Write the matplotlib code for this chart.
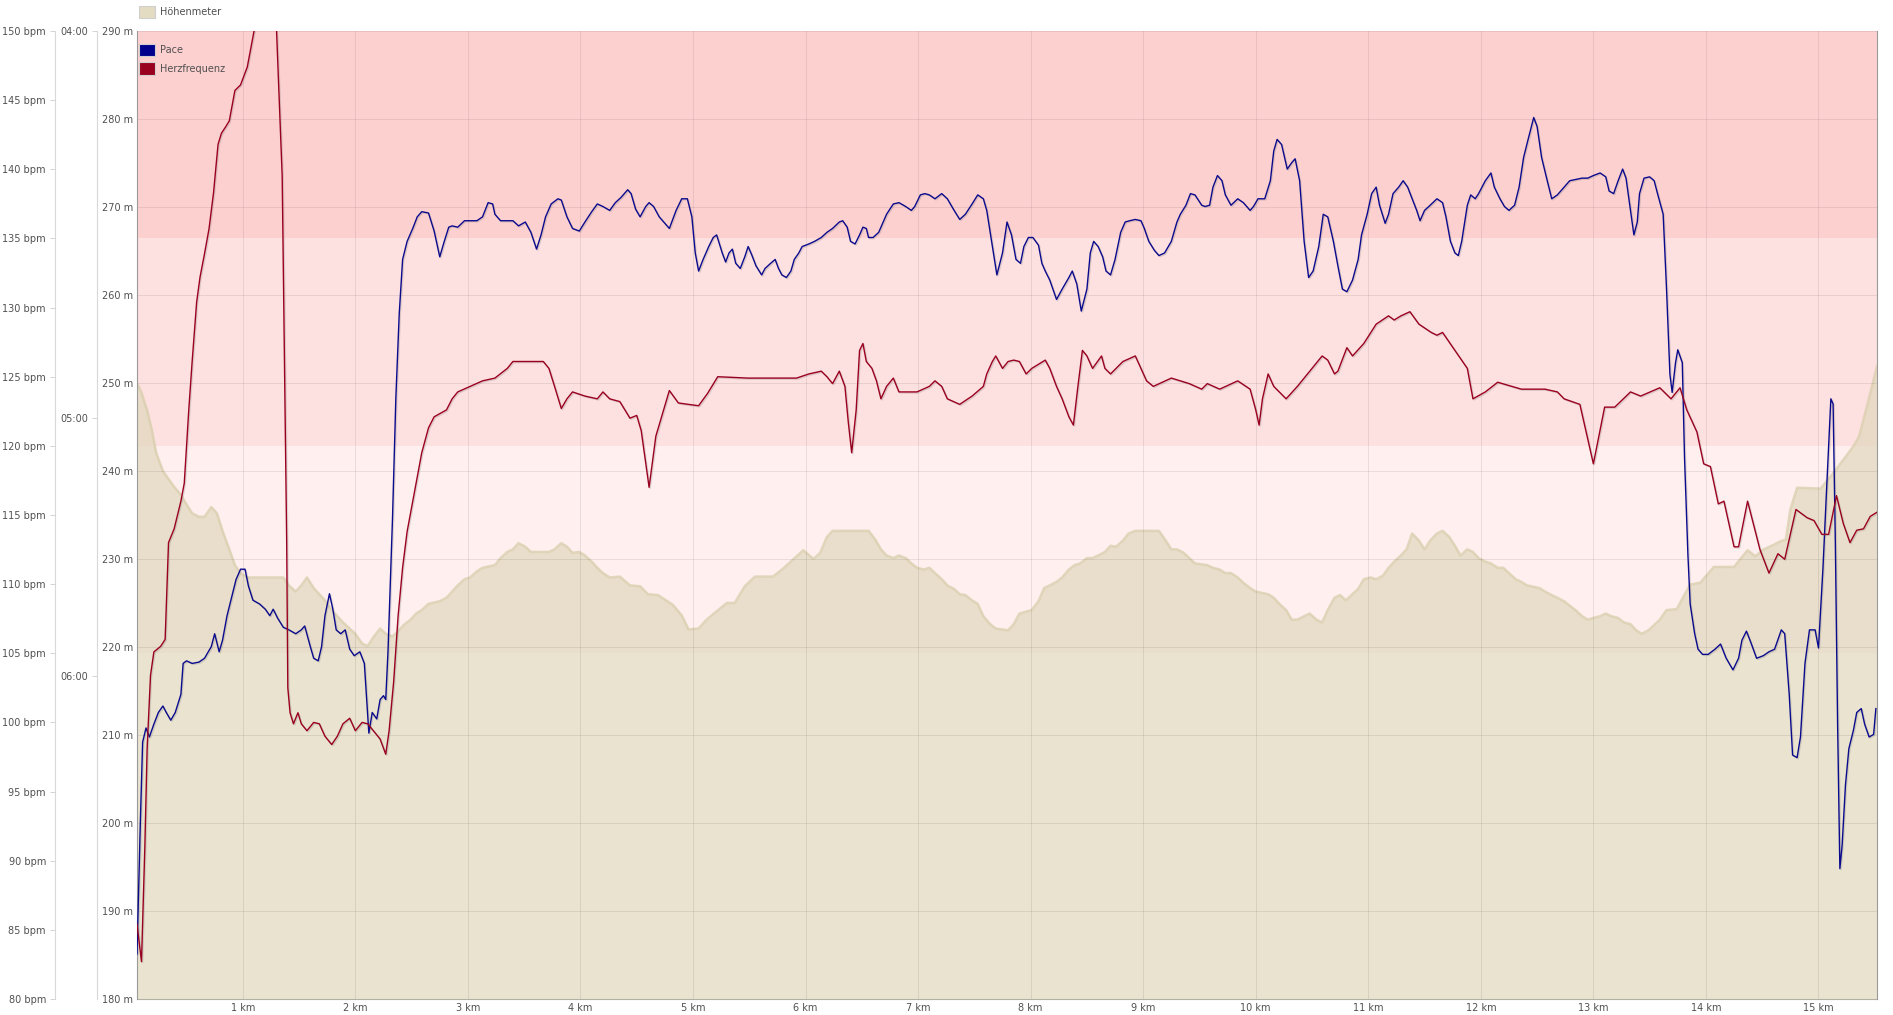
import matplotlib
matplotlib.use('Agg')
import matplotlib.pyplot as plt
import matplotlib.patheffects as pe
from matplotlib.patches import Patch

# --- DATEN: Hoehenprofil ---
alt_km = [0.06, 0.10, 0.15, 0.19, 0.23, 0.29, 0.34, 0.39, 0.45, 0.50,
          0.55, 0.61, 0.66, 0.72, 0.77, 0.82, 0.88, 0.93, 0.98, 1.04,
          1.36, 1.41, 1.47, 1.52, 1.57, 1.63, 1.68, 1.73, 1.79, 1.84,
          1.89, 1.95, 2.00, 2.06, 2.11, 2.16, 2.22, 2.27, 2.33, 2.38,
          2.43, 2.49, 2.54, 2.59, 2.65, 2.75, 2.81, 2.86, 2.91, 2.97,
          3.02, 3.08, 3.13, 3.24, 3.29, 3.35, 3.40, 3.45, 3.51, 3.56,
          3.72, 3.77, 3.83, 3.88, 3.93, 3.99, 4.04, 4.10, 4.15, 4.20,
          4.26, 4.35, 4.44, 4.53, 4.60, 4.69, 4.82, 4.90, 4.96, 5.05,
          5.12, 5.30, 5.37, 5.46, 5.55, 5.71, 5.80, 5.98, 6.07, 6.13,
          6.19, 6.24, 6.56, 6.62, 6.67, 6.72, 6.78, 6.83, 6.89, 6.94,
          6.99, 7.05, 7.10, 7.15, 7.21, 7.26, 7.32, 7.37, 7.42, 7.48,
          7.53, 7.58, 7.64, 7.69, 7.80, 7.85, 7.90, 8.01, 8.07, 8.12,
          8.17, 8.23, 8.28, 8.34, 8.39, 8.44, 8.50, 8.55, 8.60, 8.66,
          8.71, 8.76, 8.82, 8.87, 8.93, 9.14, 9.20, 9.25, 9.30, 9.36,
          9.41, 9.46, 9.57, 9.62, 9.68, 9.73, 9.78, 9.84, 9.89, 9.95,
          10.00, 10.11, 10.16, 10.21, 10.27, 10.32, 10.37, 10.43, 10.48, 10.54,
          10.59, 10.64, 10.70, 10.75, 10.80, 10.86, 10.91, 10.96, 11.02, 11.07,
          11.13, 11.18, 11.23, 11.29, 11.34, 11.39, 11.45, 11.50, 11.55, 11.61,
          11.66, 11.72, 11.77, 11.82, 11.88, 11.93, 11.98, 12.04, 12.09, 12.15,
          12.20, 12.25, 12.31, 12.36, 12.41, 12.52, 12.57, 12.63, 12.68, 12.74,
          12.79, 12.84, 12.90, 12.95, 13.00, 13.06, 13.11, 13.16, 13.22, 13.27,
          13.33, 13.38, 13.43, 13.49, 13.54, 13.59, 13.65, 13.74, 13.86, 13.95,
          14.07, 14.25, 14.37, 14.44, 14.50, 14.60, 14.66, 14.71, 14.75, 14.81,
          15.02, 15.14, 15.31, 15.36, 15.43, 15.52]
alt_m = [250.0, 248.9, 246.9, 244.8, 242.1, 240.0, 239.1, 238.2, 237.3, 236.2,
         235.2, 234.8, 234.8, 235.9, 235.2, 233.2, 231.1, 229.3, 228.4, 227.9,
         227.9, 227.0, 226.3, 227.0, 227.9, 226.7, 226.0, 225.3, 224.2, 223.5,
         222.8, 222.1, 221.5, 220.4, 220.1, 221.1, 222.1, 221.5, 221.2, 221.8,
         222.5, 223.1, 223.8, 224.2, 224.9, 225.2, 225.6, 226.3, 227.0, 227.7,
         227.9, 228.6, 229.0, 229.3, 230.1, 230.8, 231.1, 231.8, 231.4, 230.8,
         230.8, 231.1, 231.8, 231.4, 230.7, 230.8, 230.4, 229.7, 229.0, 228.4,
         227.9, 228.0, 227.0, 226.9, 226.0, 225.9, 224.8, 223.6, 222.0, 222.1,
         223.1, 225.0, 225.0, 226.9, 228.0, 228.0, 228.9, 231.0, 230.0, 230.7,
         232.5, 233.2, 233.2, 232.2, 231.1, 230.4, 230.1, 230.4, 230.1, 229.5,
         229.0, 228.8, 229.0, 228.4, 227.7, 227.0, 226.6, 226.0, 225.9, 225.3,
         224.9, 223.5, 222.6, 222.1, 221.9, 222.6, 223.8, 224.2, 225.2, 226.7,
         227.0, 227.4, 227.9, 228.8, 229.3, 229.5, 230.1, 230.1, 230.4, 230.8,
         231.5, 231.4, 232.1, 232.9, 233.2, 233.2, 232.1, 231.1, 231.1, 230.7,
         230.1, 229.5, 229.3, 229.0, 228.8, 228.4, 228.4, 227.9, 227.3, 226.7,
         226.3, 226.0, 225.6, 224.9, 224.2, 223.1, 223.1, 223.5, 223.8, 223.1,
         222.8, 224.2, 225.6, 225.9, 225.3, 226.0, 226.6, 227.7, 227.9, 227.7,
         228.1, 229.0, 229.7, 230.4, 231.1, 232.9, 232.1, 231.1, 232.1, 232.9,
         233.2, 232.5, 231.5, 230.4, 231.1, 230.8, 230.1, 229.7, 229.5, 229.0,
         229.0, 228.4, 227.7, 227.4, 227.0, 226.7, 226.3, 225.9, 225.6, 225.2,
         224.7, 224.2, 223.5, 223.1, 223.3, 223.5, 223.8, 223.5, 223.3, 222.8,
         222.6, 221.9, 221.5, 221.9, 222.5, 223.1, 224.2, 224.3, 227.1, 227.3,
         229.1, 229.1, 231.0, 230.3, 231.0, 231.6, 232.0, 232.2, 235.6, 238.1,
         238.0, 239.9, 242.8, 243.9, 247.3, 251.9]

# --- DATEN: Pace (als Geschwindigkeit km/h) ---
pace_km = [0.06, 0.09, 0.11, 0.14, 0.17, 0.21, 0.25, 0.29, 0.32, 0.36,
           0.40, 0.45, 0.47, 0.50, 0.55, 0.61, 0.66, 0.72, 0.75, 0.79,
           0.82, 0.86, 0.90, 0.94, 0.98, 1.02, 1.05, 1.09, 1.15, 1.20,
           1.24, 1.27, 1.31, 1.36, 1.41, 1.47, 1.52, 1.55, 1.60, 1.63,
           1.67, 1.70, 1.73, 1.77, 1.80, 1.83, 1.87, 1.91, 1.95, 1.99,
           2.04, 2.08, 2.12, 2.15, 2.19, 2.22, 2.25, 2.27, 2.29, 2.33,
           2.36, 2.39, 2.42, 2.46, 2.51, 2.55, 2.59, 2.65, 2.70, 2.75,
           2.79, 2.83, 2.86, 2.91, 2.97, 3.08, 3.13, 3.18, 3.22, 3.24,
           3.29, 3.40, 3.45, 3.51, 3.56, 3.61, 3.65, 3.69, 3.74, 3.80,
           3.83, 3.88, 3.93, 3.99, 4.04, 4.10, 4.15, 4.20, 4.26, 4.31,
           4.36, 4.42, 4.45, 4.49, 4.53, 4.58, 4.61, 4.65, 4.70, 4.74,
           4.79, 4.85, 4.90, 4.95, 4.99, 5.02, 5.05, 5.09, 5.14, 5.18,
           5.21, 5.26, 5.29, 5.32, 5.35, 5.38, 5.42, 5.46, 5.49, 5.52,
           5.56, 5.61, 5.64, 5.69, 5.73, 5.76, 5.79, 5.83, 5.87, 5.90,
           5.94, 5.97, 6.03, 6.08, 6.14, 6.19, 6.24, 6.30, 6.33, 6.37,
           6.40, 6.44, 6.48, 6.51, 6.54, 6.56, 6.60, 6.65, 6.69, 6.72,
           6.78, 6.83, 6.89, 6.94, 6.97, 7.02, 7.06, 7.10, 7.15, 7.21,
           7.26, 7.32, 7.37, 7.42, 7.48, 7.53, 7.58, 7.61, 7.66, 7.70,
           7.75, 7.79, 7.83, 7.87, 7.91, 7.94, 7.98, 8.02, 8.07, 8.10,
           8.13, 8.17, 8.23, 8.28, 8.34, 8.37, 8.41, 8.45, 8.50, 8.53,
           8.56, 8.60, 8.64, 8.67, 8.71, 8.75, 8.80, 8.84, 8.88, 8.93,
           8.98, 9.01, 9.05, 9.10, 9.14, 9.19, 9.25, 9.30, 9.33, 9.38,
           9.42, 9.46, 9.52, 9.55, 9.59, 9.62, 9.66, 9.70, 9.73, 9.78,
           9.84, 9.89, 9.95, 9.98, 10.02, 10.08, 10.13, 10.16, 10.19, 10.23,
           10.28, 10.32, 10.35, 10.39, 10.43, 10.47, 10.51, 10.56, 10.60, 10.64,
           10.69, 10.73, 10.77, 10.81, 10.86, 10.91, 10.94, 10.99, 11.03, 11.07,
           11.10, 11.15, 11.18, 11.22, 11.27, 11.31, 11.35, 11.39, 11.43, 11.46,
           11.50, 11.55, 11.61, 11.66, 11.69, 11.73, 11.77, 11.80, 11.83, 11.88,
           11.91, 11.95, 11.98, 12.04, 12.09, 12.12, 12.17, 12.21, 12.25, 12.30,
           12.34, 12.38, 12.42, 12.47, 12.50, 12.54, 12.59, 12.63, 12.68, 12.74,
           12.79, 12.90, 12.95, 13.00, 13.06, 13.11, 13.14, 13.18, 13.22, 13.26,
           13.29, 13.33, 13.36, 13.39, 13.41, 13.45, 13.50, 13.54, 13.57, 13.62,
           13.65, 13.68, 13.70, 13.73, 13.75, 13.79, 13.81, 13.84, 13.86, 13.90,
           13.93, 13.97, 14.02, 14.08, 14.13, 14.18, 14.24, 14.29, 14.32, 14.36,
           14.40, 14.45, 14.51, 14.56, 14.61, 14.67, 14.70, 14.74, 14.77, 14.81,
           14.84, 14.88, 14.92, 14.97, 15.00, 15.04, 15.07, 15.11, 15.13, 15.15,
           15.17, 15.19, 15.21, 15.24, 15.27, 15.31, 15.34, 15.38, 15.41, 15.45,
           15.49, 15.51]
speed_kmh = [7.85, 8.88, 9.49, 9.60, 9.53, 9.63, 9.72, 9.77, 9.72, 9.66,
             9.72, 9.86, 10.10, 10.12, 10.10, 10.11, 10.14, 10.23, 10.33, 10.19,
             10.28, 10.47, 10.61, 10.75, 10.83, 10.83, 10.70, 10.59, 10.56, 10.52,
             10.47, 10.52, 10.45, 10.38, 10.36, 10.33, 10.36, 10.39, 10.23, 10.14,
             10.12, 10.23, 10.47, 10.64, 10.52, 10.36, 10.33, 10.36, 10.21, 10.16,
             10.19, 10.10, 9.56, 9.72, 9.67, 9.82, 9.85, 9.82, 10.19, 11.22,
             12.16, 12.81, 13.23, 13.37, 13.47, 13.56, 13.60, 13.59, 13.45, 13.25,
             13.37, 13.48, 13.49, 13.48, 13.53, 13.53, 13.56, 13.67, 13.66, 13.58,
             13.53, 13.53, 13.49, 13.52, 13.44, 13.31, 13.42, 13.56, 13.66, 13.70,
             13.69, 13.56, 13.47, 13.45, 13.52, 13.60, 13.66, 13.64, 13.61, 13.67,
             13.71, 13.77, 13.74, 13.62, 13.56, 13.64, 13.67, 13.64, 13.56, 13.52,
             13.47, 13.61, 13.70, 13.70, 13.56, 13.28, 13.14, 13.23, 13.33, 13.40,
             13.42, 13.28, 13.21, 13.28, 13.31, 13.20, 13.16, 13.25, 13.33, 13.27,
             13.18, 13.11, 13.16, 13.20, 13.23, 13.16, 13.11, 13.09, 13.14, 13.23,
             13.28, 13.33, 13.35, 13.37, 13.40, 13.44, 13.47, 13.52, 13.53, 13.48,
             13.37, 13.35, 13.42, 13.48, 13.47, 13.40, 13.40, 13.44, 13.52, 13.58,
             13.66, 13.67, 13.64, 13.61, 13.64, 13.73, 13.74, 13.73, 13.70, 13.74,
             13.70, 13.61, 13.54, 13.58, 13.66, 13.73, 13.70, 13.61, 13.33, 13.11,
             13.28, 13.52, 13.42, 13.23, 13.20, 13.33, 13.40, 13.40, 13.34, 13.20,
             13.14, 13.07, 12.92, 13.00, 13.09, 13.14, 13.04, 12.83, 13.00, 13.28,
             13.37, 13.33, 13.25, 13.14, 13.11, 13.23, 13.44, 13.52, 13.53, 13.54,
             13.53, 13.47, 13.37, 13.30, 13.26, 13.28, 13.37, 13.52, 13.58, 13.65,
             13.74, 13.73, 13.65, 13.64, 13.65, 13.79, 13.88, 13.84, 13.73, 13.65,
             13.70, 13.67, 13.61, 13.64, 13.70, 13.70, 13.84, 14.07, 14.16, 14.12,
             13.93, 13.98, 14.01, 13.84, 13.37, 13.09, 13.14, 13.33, 13.58, 13.56,
             13.37, 13.18, 13.00, 12.98, 13.07, 13.23, 13.42, 13.58, 13.74, 13.79,
             13.65, 13.51, 13.58, 13.74, 13.79, 13.84, 13.79, 13.70, 13.61, 13.53,
             13.61, 13.65, 13.70, 13.67, 13.56, 13.37, 13.28, 13.26, 13.37, 13.65,
             13.73, 13.70, 13.74, 13.84, 13.90, 13.79, 13.70, 13.64, 13.61, 13.65,
             13.79, 14.02, 14.16, 14.33, 14.26, 14.02, 13.84, 13.70, 13.73, 13.79,
             13.84, 13.86, 13.86, 13.88, 13.90, 13.87, 13.76, 13.74, 13.84, 13.93,
             13.86, 13.61, 13.42, 13.52, 13.74, 13.86, 13.87, 13.84, 13.74, 13.58,
             13.00, 12.34, 12.20, 12.43, 12.53, 12.43, 11.69, 10.94, 10.56, 10.33,
             10.21, 10.17, 10.17, 10.21, 10.25, 10.14, 10.05, 10.14, 10.28, 10.35,
             10.26, 10.14, 10.16, 10.19, 10.21, 10.36, 10.33, 9.86, 9.39, 9.37,
             9.53, 10.10, 10.36, 10.36, 10.22, 10.84, 11.41, 12.15, 12.11, 11.03,
             9.63, 8.51, 8.69, 9.16, 9.44, 9.58, 9.72, 9.75, 9.63, 9.53,
             9.55, 9.75]

# --- DATEN: Herzfrequenz ---
hr_km = [0.06, 0.10, 0.13, 0.15, 0.18, 0.21, 0.27, 0.31, 0.34, 0.39,
         0.45, 0.48, 0.52, 0.55, 0.59, 0.62, 0.66, 0.70, 0.74, 0.78,
         0.81, 0.85, 0.88, 0.93, 0.98, 1.04, 1.07, 1.10, 1.19, 1.30,
         1.33, 1.35, 1.37, 1.39, 1.40, 1.42, 1.45, 1.49, 1.52, 1.57,
         1.63, 1.68, 1.73, 1.79, 1.84, 1.89, 1.95, 2.00, 2.06, 2.11,
         2.16, 2.22, 2.27, 2.30, 2.34, 2.38, 2.42, 2.46, 2.51, 2.55,
         2.59, 2.65, 2.70, 2.81, 2.86, 2.91, 3.02, 3.13, 3.24, 3.35,
         3.40, 3.67, 3.72, 3.77, 3.83, 3.88, 3.93, 4.04, 4.15, 4.20,
         4.26, 4.35, 4.44, 4.50, 4.54, 4.61, 4.67, 4.79, 4.87, 5.05,
         5.13, 5.22, 5.49, 5.92, 6.03, 6.14, 6.19, 6.24, 6.30, 6.35,
         6.38, 6.41, 6.45, 6.48, 6.51, 6.54, 6.59, 6.63, 6.67, 6.72,
         6.78, 6.83, 6.99, 7.10, 7.15, 7.21, 7.26, 7.37, 7.48, 7.58,
         7.61, 7.66, 7.69, 7.75, 7.80, 7.85, 7.90, 7.96, 8.01, 8.13,
         8.17, 8.23, 8.28, 8.34, 8.38, 8.42, 8.46, 8.50, 8.55, 8.63,
         8.66, 8.71, 8.82, 8.93, 8.98, 9.03, 9.09, 9.25, 9.41, 9.52,
         9.57, 9.68, 9.84, 9.95, 10.00, 10.03, 10.06, 10.11, 10.16, 10.27,
         10.37, 10.48, 10.59, 10.64, 10.70, 10.73, 10.81, 10.86, 10.96, 11.07,
         11.18, 11.23, 11.29, 11.37, 11.45, 11.56, 11.61, 11.66, 11.77, 11.88,
         11.93, 12.04, 12.15, 12.36, 12.57, 12.68, 12.74, 12.88, 13.00, 13.10,
         13.19, 13.33, 13.42, 13.59, 13.69, 13.77, 13.83, 13.92, 13.98, 14.04,
         14.11, 14.16, 14.25, 14.29, 14.37, 14.48, 14.56, 14.64, 14.70, 14.80,
         14.90, 14.96, 15.03, 15.09, 15.16, 15.22, 15.28, 15.34, 15.40, 15.46,
         15.52]
hr_bpm = [85.4, 82.7, 91.1, 98.1, 103.4, 105.1, 105.5, 106.0, 113.0, 114.0,
          116.0, 117.3, 122.6, 126.1, 130.4, 132.2, 133.9, 135.7, 138.3, 141.8,
          142.6, 143.1, 143.5, 145.7, 146.1, 147.4, 148.7, 150.0, 154.0, 150.0,
          143.6, 139.5, 126.1, 113.0, 102.5, 100.7, 99.9, 100.7, 99.9, 99.4,
          100.0, 99.9, 99.0, 98.4, 99.0, 99.9, 100.3, 99.4, 100.0, 99.9,
          99.4, 98.8, 97.7, 99.4, 102.9, 107.7, 111.2, 113.8, 116.0, 117.8,
          119.5, 121.3, 122.1, 122.6, 123.4, 123.9, 124.3, 124.7, 124.9, 125.6,
          126.1, 126.1, 125.6, 124.3, 122.7, 123.4, 123.9, 123.6, 123.4, 123.9,
          123.4, 123.2, 122.0, 122.2, 121.1, 117.0, 120.7, 124.0, 123.1, 122.9,
          123.8, 125.0, 124.9, 124.9, 125.2, 125.4, 125.0, 124.5, 125.4, 124.3,
          121.7, 119.5, 122.6, 126.9, 127.4, 126.1, 125.6, 124.7, 123.4, 124.3,
          124.9, 123.9, 123.9, 124.3, 124.7, 124.3, 123.4, 123.0, 123.6, 124.3,
          125.2, 126.1, 126.5, 125.6, 126.1, 126.2, 126.1, 125.2, 125.6, 126.2,
          125.6, 124.3, 123.4, 122.1, 121.5, 124.3, 126.9, 126.5, 125.6, 126.5,
          125.6, 125.2, 126.1, 126.5, 125.6, 124.7, 124.3, 124.9, 124.5, 124.1,
          124.5, 124.1, 124.7, 124.1, 122.6, 121.5, 123.4, 125.2, 124.3, 123.4,
          124.3, 125.4, 126.5, 126.2, 125.2, 125.4, 127.1, 126.5, 127.4, 128.8,
          129.4, 129.1, 129.4, 129.7, 128.8, 128.2, 128.0, 128.2, 126.9, 125.6,
          123.4, 123.9, 124.6, 124.1, 124.1, 123.9, 123.4, 123.0, 118.7, 122.8,
          122.8, 123.9, 123.6, 124.2, 123.4, 124.2, 122.6, 121.0, 118.7, 118.5,
          115.8, 116.0, 112.7, 112.7, 116.0, 112.5, 110.8, 112.2, 111.8, 115.4,
          114.8, 114.6, 113.6, 113.6, 116.4, 114.4, 113.0, 113.9, 114.0, 114.9,
          115.2]

# --- ACHSEN / ZONEN ---
km_ticks = list(range(1, 16))
alt_ticks = list(range(180, 300, 10))
bpm_ticks = list(range(80, 155, 5))
pace_tick_sec = [240, 300, 360]
zone_bounds = [105, 120, 135, 150]
zone_colors = ['#ffefef', '#fde0e0', '#fdd0d0']

TXT = '#505050'
FS = 7
W, H = 1893, 1015

fig = plt.figure(figsize=(W / 100, H / 100), dpi=100, facecolor='white')
rect = [137 / W, 16 / H, (1877 - 137) / W, (999 - 31) / H]

ax_bpm = fig.add_axes(rect)
ax_alt = ax_bpm.twinx()
ax_pace = ax_bpm.twinx()
ax_hr = ax_bpm.twinx()

ax_bpm.set_xlim(0.06, 15.52)

# Herzfrequenz-Zonen
ax_bpm.set_ylim(80, 150)
for lo, hi, c in zip(zone_bounds[:-1], zone_bounds[1:], zone_colors):
    ax_bpm.axhspan(lo, hi, color=c, lw=0, zorder=0)

ax_bpm.set_xticks(km_ticks)
ax_bpm.set_xticklabels([f'{k} km' for k in km_ticks])
ax_bpm.tick_params(axis='x', length=0, pad=3, labelsize=FS, labelcolor=TXT)
ax_bpm.set_yticks(bpm_ticks)
ax_bpm.set_yticklabels([f'{b} bpm' for b in bpm_ticks])
ax_bpm.tick_params(axis='y', length=3.5, width=0.7, color='#d4d4d4', pad=3,
                   labelsize=FS, labelcolor=TXT)
ax_bpm.spines['left'].set_position(('outward', 82 * 0.72))
ax_bpm.spines['left'].set_color('#d8d8d8')
ax_bpm.spines['top'].set_visible(False)
ax_bpm.spines['right'].set_visible(False)
ax_bpm.spines['bottom'].set_color('#9a9a9a')

# Hoehenmeter (Flaeche)
ax_alt.set_ylim(180, 290)
ax_alt.fill_between(alt_km, 180, alt_m, color='#e0d8bc', alpha=0.7, lw=0, zorder=1)
ax_alt.plot(alt_km, alt_m, color='#d8ceac', lw=1.8, alpha=0.75, zorder=1.2,
            solid_joinstyle='round')
for a in alt_ticks[1:]:
    ax_alt.axhline(a, color='black', alpha=0.08, lw=0.75, zorder=1.5)
for k in km_ticks:
    ax_alt.axvline(k, color='black', alpha=0.08, lw=0.75, zorder=1.5)
ax_alt.yaxis.tick_left()
ax_alt.set_yticks(alt_ticks)
ax_alt.set_yticklabels([f'{a} m' for a in alt_ticks])
ax_alt.tick_params(axis='y', length=0, pad=3, labelsize=FS, labelcolor=TXT)
for s in ['top', 'right', 'bottom']:
    ax_alt.spines[s].set_visible(False)
ax_alt.spines['left'].set_color('#9a9a9a')
ax_alt.spines['left'].set_zorder(3)

shadow = [pe.SimpleLineShadow(offset=(0.8, -0.8), shadow_color='#777777', alpha=0.25),
          pe.Normal()]

# Pace (Geschwindigkeitsskala, Beschriftung als min/km)
ax_pace.set_ylim(7.5, 15)
ax_pace.plot(pace_km, speed_kmh, color='#0a0a8c', lw=1.0, path_effects=shadow,
             solid_joinstyle='round')
ax_pace.yaxis.tick_left()
ax_pace.set_yticks([3600 / s for s in pace_tick_sec])
ax_pace.set_yticklabels([f'{s // 60:02d}:{s % 60:02d}' for s in pace_tick_sec])
ax_pace.tick_params(axis='y', length=3.5, width=0.7, color='#d4d4d4', pad=3,
                    labelsize=FS, labelcolor=TXT)
for s in ['top', 'right', 'bottom']:
    ax_pace.spines[s].set_visible(False)
ax_pace.spines['left'].set_position(('outward', 40 * 0.72))
ax_pace.spines['left'].set_color('#d8d8d8')

# Herzfrequenz
ax_hr.set_ylim(80, 150)
ax_hr.plot(hr_km, hr_bpm, color='#99001f', lw=1.0, path_effects=shadow,
           solid_joinstyle='round')
ax_hr.set_yticks([])
for s in ax_hr.spines.values():
    s.set_visible(False)
ax_hr.spines['right'].set_visible(True)
ax_hr.spines['right'].set_color('#9a9a9a')

# Legenden
leg_kw = dict(fontsize=FS, frameon=False, handlelength=1.65, handleheight=1.6,
              handletextpad=0.55, borderpad=0, borderaxespad=0, labelcolor=TXT)
fig.legend(handles=[Patch(facecolor='#e4dcc2', edgecolor='#cfcfcf', lw=0.8,
                          label='Höhenmeter')],
           loc='upper left', bbox_to_anchor=(139 / W, 1 - 6 / H), **leg_kw)
ax_hr.legend(handles=[Patch(facecolor='#00008c', edgecolor='#cfcfcf', lw=0.8, label='Pace'),
                      Patch(facecolor='#99001f', edgecolor='#cfcfcf', lw=0.8,
                            label='Herzfrequenz')],
             loc='upper left', bbox_to_anchor=(2 / 1740, 1 - 13 / 968),
             labelspacing=0.6, **leg_kw)

fig.savefig('out.png', dpi=100, facecolor='white')
